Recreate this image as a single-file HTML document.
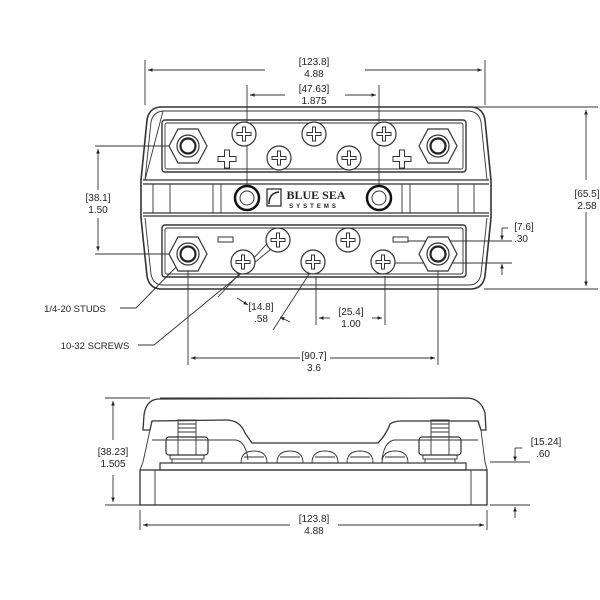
<!DOCTYPE html>
<html><head><meta charset="utf-8"><style>
html,body{margin:0;padding:0;background:#fff}
svg{display:block}
text{font-family:"Liberation Sans",sans-serif;font-size:10px;fill:#222;text-anchor:middle}
</style></head><body>
<svg width="600" height="600" viewBox="0 0 600 600" xmlns="http://www.w3.org/2000/svg">
<defs>
<marker id="a" viewBox="0 0 10 10" refX="10" refY="5" markerWidth="7" markerHeight="5" orient="auto-start-reverse"><path d="M0,1 L10,5 L0,9z" fill="#222"/></marker>
<g id="scr"><circle r="12" fill="#fff" stroke="#333" stroke-width="1.2"/><path d="M-1.5,-7 h3 v5.5 h5.5 v3 h-5.5 v5.5 h-3 v-5.5 h-5.5 v-3 h5.5z" fill="#fff" stroke="#333" stroke-width="1"/></g>
<g id="stud"><polygon points="-19,0 -10,-17 10,-17 19,0 10,17 -10,17" fill="#fff" stroke="#333" stroke-width="1.2"/><circle r="11" fill="#fff" stroke="#333" stroke-width="1.2"/><circle r="7.5" fill="#fff" stroke="#222" stroke-width="2.2"/></g>
<g id="plus"><path d="M-2.5,-9 h5 v6.5 h6.5 v5 h-6.5 v6.5 h-5 v-6.5 h-6.5 v-5 h6.5z" fill="#fff" stroke="#333" stroke-width="1"/></g>
</defs>
<g fill="none" stroke="#333" stroke-width="0.9">
<path d="M160,107 L472,107 Q483,108 485,120 L491,180 L491,218 L485,276 Q483,288 472,289 L160,289 Q149,288 147,276 L141,218 L141,180 L147,120 Q149,108 160,107Z" stroke-width="1.6"/>
<path d="M163,111 L469,111 Q479,112 481,122 L487,180 M487,218 L481,274 Q479,285 469,285 L163,285 Q153,285 151,274 L145,218 M145,180 L151,122 Q153,112 163,111Z"/>
<rect x="162" y="120" width="304" height="52" rx="3" stroke-width="1.4"/>
<rect x="165" y="123" width="298" height="46" rx="2"/>
<rect x="162" y="225" width="304" height="52" rx="3" stroke-width="1.4"/>
<rect x="165" y="228" width="298" height="46" rx="2"/>
<path d="M143,180 L489,180 M143,184 L489,184 M143,213 L489,213 M143,216 L489,216" stroke-width="1.2"/>
<path d="M153,184 V213 M170,184 V213 M213,184 V213 M221,184 V213 M402,184 V213 M410,184 V213 M458,184 V213 M474,184 V213"/>
<path d="M95,146 H188 M95,254 H188"/>
<path d="M98,190 V149" marker-end="url(#a)"/>
<path d="M98,218 V251" marker-end="url(#a)"/>
<path d="M145,60 V105 M485,60 V105"/>
<path d="M265,70 H148" marker-end="url(#a)"/><path d="M365,70 H482" marker-end="url(#a)"/>
<path d="M247,85 V186 M379,85 V186"/>
<path d="M285,95 H250" marker-end="url(#a)"/><path d="M345,95 H376" marker-end="url(#a)"/>
<path d="M470,107 H598 M484,289 H598"/>
<path d="M586,180 V110" marker-end="url(#a)"/><path d="M586,212 V286" marker-end="url(#a)"/>
<path d="M395,241 H512 M395,263 H512"/>
<path d="M502,228 H508"/><path d="M502,228 V240" marker-end="url(#a)"/>
<path d="M502,275 V264" marker-end="url(#a)"/>
<path d="M188,270 V365 M438,270 V365 M316,276 V325 M385,276 V325"/>
<path d="M300,358 H191" marker-end="url(#a)"/><path d="M330,358 H435" marker-end="url(#a)"/>
<path d="M330,318 H319" marker-end="url(#a)"/><path d="M372,318 H382" marker-end="url(#a)"/>
<path d="M120,308 H136 L181,262"/>
<path d="M138,345 H154 L276,245"/>
<path d="M218,297 L275,235" />
<path d="M237,298 L248,305" marker-end="url(#a)"/>
<path d="M273,330 L313,268"/><path d="M290,322 L280,317" marker-end="url(#a)"/>
<path d="M158,399 Q146,400 144,415 L143,430 L150,430 L152,421 L226,420 Q240,420 245,433 L252,443 L378,443 Q386,435 390,424 Q394,421 402,421 L478,421 L481,430 L486,430 L485,413 Q481,399 468,398 Z" stroke-width="1.3"/>
<path d="M160,398 H468"/>
<path d="M150,430 L143,462 L140,470 M481,430 L485,462 L487,470"/>
<path d="M152,440 L236,440 Q246,442 248,460 M478,440 L394,440 Q384,442 382,460"/>
<rect x="140" y="470" width="347" height="35" stroke-width="1.3"/>
<path d="M155,470 V505 M471,470 V505"/>
<rect x="160" y="463" width="306" height="7" stroke-width="1.2"/>
<g id="sn"><rect x="178" y="420" width="18" height="17"/><path d="M178,424 H196 M178,428 H196 M178,432 H196"/>
<rect x="166" y="437" width="42" height="18" rx="3" stroke-width="1.2"/><path d="M178,437 V455 M196,437 V455"/>
<rect x="170" y="455" width="34" height="4"/><rect x="172" y="459" width="30" height="4"/></g>
<use href="#sn" transform="translate(253,0)"/>
<path d="M241,463 Q241,451 254,451 Q267,451 267,463 M277,463 Q277,451 290,451 Q303,451 303,463 M312,463 Q312,451 325,451 Q338,451 338,463 M347,463 Q347,451 360,451 Q373,451 373,463 M382,463 Q382,451 395,451 Q408,451 408,463"/>
<path d="M244,457 H264 M280,457 H300 M315,457 H335 M350,457 H370 M385,457 H405"/>
<path d="M105,398 H150 M105,505 H140"/>
<path d="M113,440 V401" marker-end="url(#a)"/><path d="M113,475 V502" marker-end="url(#a)"/>
<path d="M140,510 V530 M487,510 V530"/>
<path d="M290,525 H143" marker-end="url(#a)"/><path d="M338,525 H484" marker-end="url(#a)"/>
<path d="M490,462 H530 M490,505 H530"/>
<path d="M515,448 H522"/><path d="M515,448 V461" marker-end="url(#a)"/>
<path d="M515,518 V507" marker-end="url(#a)"/>
</g>
<use href="#stud" x="188" y="146"/><use href="#stud" x="438" y="146"/>
<use href="#stud" x="188" y="254"/><use href="#stud" x="438" y="254"/>
<use href="#scr" x="244" y="134"/><use href="#scr" x="314" y="134"/><use href="#scr" x="384" y="134"/>
<use href="#scr" x="279" y="158"/><use href="#scr" x="349" y="158"/>
<use href="#scr" x="278" y="240"/><use href="#scr" x="348" y="240"/>
<use href="#scr" x="243" y="262"/><use href="#scr" x="313" y="262"/><use href="#scr" x="383" y="262"/>
<use href="#plus" x="227" y="159"/><use href="#plus" x="402" y="159"/>
<rect x="218" y="237" width="15" height="5" fill="#fff" stroke="#333"/><rect x="393" y="237" width="15" height="5" fill="#fff" stroke="#333"/>
<circle cx="247" cy="198" r="12" fill="#fff" stroke="#111" stroke-width="2.5"/><circle cx="247" cy="198" r="7" fill="none" stroke="#333"/>
<circle cx="379" cy="198" r="12" fill="#fff" stroke="#111" stroke-width="2.5"/><circle cx="379" cy="198" r="7" fill="none" stroke="#333"/>
<rect x="267" y="189" width="14" height="17" fill="none" stroke="#222" stroke-width="1.2"/>
<path d="M269,204 Q269,193 279,192" fill="none" stroke="#222" stroke-width="1.5"/>
<text x="316" y="199" style="font-family:'Liberation Serif',serif;font-size:12px;font-weight:bold">BLUE SEA</text>
<text x="314" y="208" style="font-size:6px;letter-spacing:3px;font-weight:bold">SYSTEMS</text>
<text x="314" y="65">[123.8]</text><text x="314" y="77">4.88</text>
<text x="314" y="92">[47.63]</text><text x="314" y="104">1.875</text>
<text x="98" y="201">[38.1]</text><text x="98" y="213">1.50</text>
<rect x="572" y="187" width="30" height="22" fill="#fff"/>
<text x="587" y="197">[65.5]</text><text x="587" y="209">2.58</text>
<text x="524" y="230">[7.6]</text><text x="521" y="242">.30</text>
<text x="75" y="312" style="font-size:9.5px">1/4-20 STUDS</text>
<text x="95" y="349" style="font-size:9.5px">10-32 SCREWS</text>
<text x="261" y="310">[14.8]</text><text x="261" y="322">.58</text>
<text x="351" y="315">[25.4]</text><text x="351" y="327">1.00</text>
<text x="314" y="359">[90.7]</text><text x="314" y="371">3.6</text>
<rect x="96" y="445" width="34" height="24" fill="#fff"/>
<text x="113" y="455">[38.23]</text><text x="113" y="467">1.505</text>
<text x="314" y="522">[123.8]</text><text x="314" y="534">4.88</text>
<text x="546" y="445">[15.24]</text><text x="543" y="457">.60</text>
</svg>
</body></html>
